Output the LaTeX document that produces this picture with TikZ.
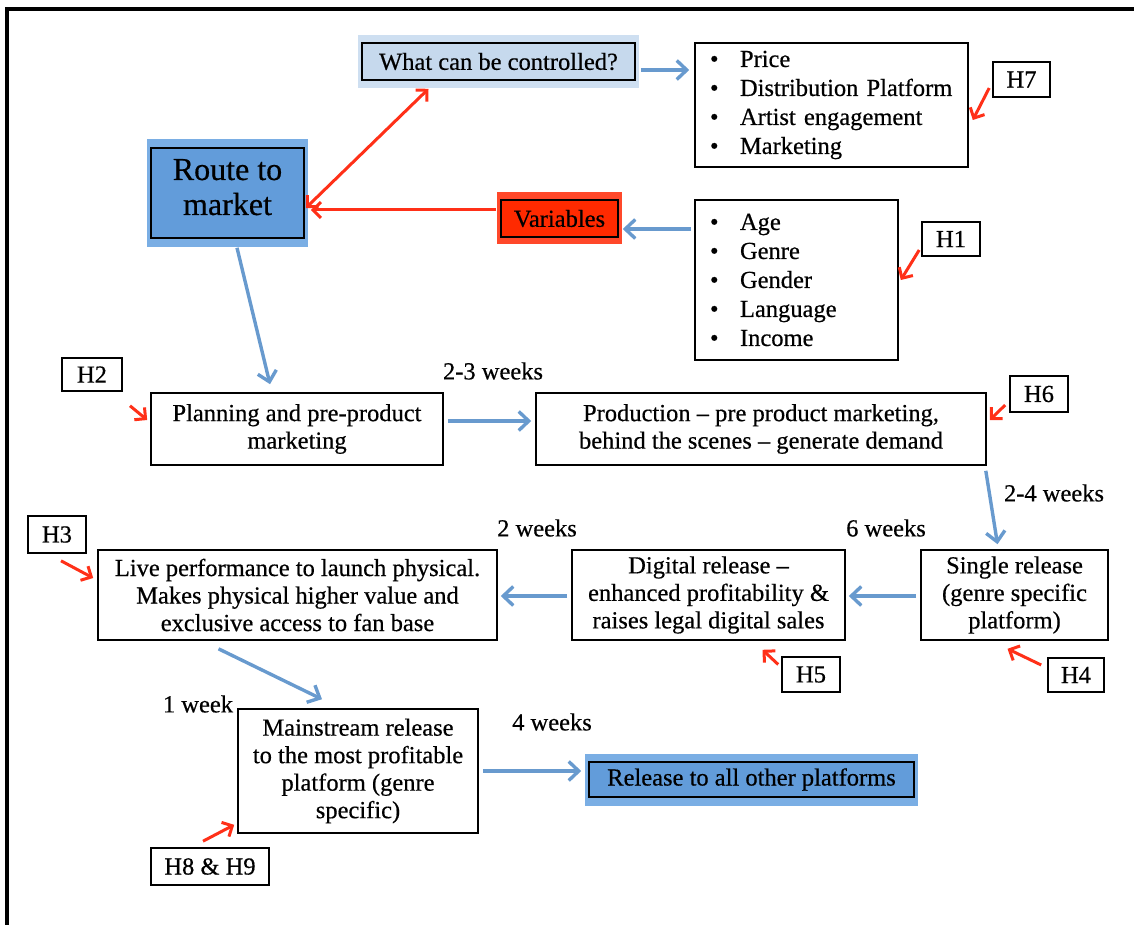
\documentclass[tikz,border=0pt]{standalone}
\usepackage{fontspec}
\setmainfont{Liberation Serif}[FakeBold=0.5]
\usetikzlibrary{arrows.meta,calc,backgrounds}

\definecolor{flowblue}{RGB}{104,154,206}
\definecolor{routeblue}{RGB}{98,156,218}
\definecolor{routeband}{RGB}{122,174,228}
\definecolor{paleblue}{RGB}{198,217,237}
\definecolor{paleband}{RGB}{206,223,241}
\definecolor{varred}{RGB}{255,42,0}
\definecolor{varband}{RGB}{255,72,42}
\definecolor{hred}{RGB}{255,48,24}

\begin{document}
\begin{tikzpicture}[x=1pt,y=-1pt,
  txt/.style={font=\fontsize{24.5}{27.5}\selectfont},
  stage/.style={draw=black, line width=1.6pt, fill=white, inner sep=0pt, align=center, txt},
  tagbox/.style={stage},
  listbox/.style={draw=black, line width=1.6pt, inner xsep=15pt, inner ysep=0pt,
    align=left, font=\fontsize{24.5}{29}\selectfont},
  flow/.style={draw=flowblue, line width=3.4pt, -{Straight Barb[length=10pt,width=19pt]}},
  hint/.style={draw=hred, line width=3pt, -{Straight Barb[length=8pt,width=16pt]}},
  hintboth/.style={draw=hred, line width=3pt,
    {Straight Barb[length=8pt,width=16pt]}-{Straight Barb[length=8pt,width=16pt]}},
  dur/.style={txt, inner sep=0pt},
]
\newcommand{\itm}[1]{\makebox[30pt][l]{\textbullet}#1}

\useasboundingbox (0,0) rectangle (1134,925);

% page frame (top and left edges)
\draw[line width=3.2pt] (1134,9) -- (7,9) -- (7,925);

% top part: route to market, controllable factors, variables
\node[stage, fill=paleblue, minimum width=273pt, minimum height=37pt] (ctrl) at (498.5,61.5) {What can be controlled?};
\node[listbox, minimum width=273pt, text width=243pt, minimum height=124pt] (ctrlList) at (831.5,105)
  {\itm{Price}\\\itm{Distribution Platform}\\\itm{Artist engagement}\\\itm{Marketing}};
\node[tagbox, minimum width=57pt, minimum height=35pt] (h7) at (1021.5,79.5) {H7};

\node[stage, fill=routeblue, minimum width=153pt, minimum height=90pt,
  font=\fontsize{32}{35}\selectfont] (route) at (227.5,193) {Route to\\market\rule[-12pt]{0pt}{1pt}};
\node[stage, fill=varred, minimum width=117pt, minimum height=37pt] (vars) at (559.5,218.5) {Variables};
\node[listbox, minimum width=203pt, text width=173pt, minimum height=160pt] (varList) at (796.5,280)
  {\itm{Age}\\\itm{Genre}\\\itm{Gender}\\\itm{Language}\\\itm{Income}};
\node[tagbox, minimum width=58pt, minimum height=34pt] (h1) at (951,239) {H1};

% release stages
\node[tagbox, minimum width=60pt, minimum height=33pt] (h2) at (92,374.5) {H2};
\node[stage, minimum width=292pt, minimum height=72pt] (plan) at (297,429) {Planning and pre-product\\marketing};
\node[stage, minimum width=450pt, minimum height=72pt] (prod) at (761,429)
  {Production -- pre product marketing,\\behind the scenes -- generate demand};
\node[tagbox, minimum width=58pt, minimum height=36pt] (h6) at (1039,394) {H6};

\node[stage, minimum width=187pt, minimum height=90pt] (single) at (1014.5,595)
  {Single release\\(genre specific\\platform)};
\node[stage, minimum width=273pt, minimum height=90pt] (digital) at (708.5,595)
  {Digital release --\\enhanced profitability \&\\raises legal digital sales};
\node[stage, minimum width=399pt, minimum height=90pt] (live) at (297.5,595)
  {Live performance to launch physical.\\Makes physical higher value and\\exclusive access to fan base};
\node[tagbox, minimum width=58pt, minimum height=37pt] (h3) at (57,534.5) {H3};
\node[tagbox, minimum width=56pt, minimum height=34pt] (h4) at (1076,675) {H4};
\node[tagbox, minimum width=58pt, minimum height=35pt] (h5) at (811,674.5) {H5};

\node[stage, minimum width=240pt, minimum height=124pt] (main) at (358,771)
  {Mainstream release\\to the most profitable\\platform (genre\\specific)};
\node[tagbox, minimum width=118pt, minimum height=37pt] (h89) at (210,866.5) {H8 \& H9};
\node[stage, fill=routeblue, minimum width=325pt, minimum height=35pt] (release) at (751.5,779.5)
  {Release to all other platforms};

% durations
\node[dur] (d23) at (493,371) {2-3 weeks};
\node[dur] (d24) at (1054,493) {2-4 weeks};
\node[dur] (d6) at (886,528) {6 weeks};
\node[dur] (d2) at (537,528) {2 weeks};
\node[dur] (d1) at (198,704) {1 week};
\node[dur] (d4) at (552,722) {4 weeks};

% coloured halos behind the highlighted boxes
\begin{scope}[on background layer]
  \fill[paleband] ($(ctrl.south west)+(-3,7)$) rectangle ($(ctrl.north east)+(3,-7)$);
  \fill[routeband] ($(route.south west)+(-3,8)$) rectangle ($(route.north east)+(3,-8)$);
  \fill[varband] ($(vars.south west)+(-3,6)$) rectangle ($(vars.north east)+(3,-7)$);
  \fill[routeband] ($(release.south west)+(-3,8)$) rectangle ($(release.north east)+(3,-7)$);
\end{scope}

% blue flow arrows
\draw[flow] ($(ctrl.east)+(5,8.5)$) -- ($(ctrlList.west)+(-5,-35)$);
\draw[flow] ($(varList.west)+(-3,-51)$) -- ($(vars.east)+(4,10.5)$);
\draw[flow] ($(route.south)+(9.5,9)$) -- ($(plan.north)+(-27,-8)$);
\draw[flow] ($(plan.east)+(4,-8)$) -- ($(prod.west)+(-4,-8)$);
\draw[flow] ($(prod.south east)+(-1,5)$) -- ($(single.north)+(-17,-5)$);
\draw[flow] ($(single.west)+(-4,1)$) -- ($(digital.east)+(3,1)$);
\draw[flow] ($(digital.west)+(-4,1)$) -- ($(live.east)+(3,1)$);
\draw[flow] ($(live.south)+(-79,8)$) -- ($(main.north)+(-36,-9)$);
\draw[flow] ($(main.east)+(4,0)$) -- ($(release.west)+(-7,-8.5)$);

% red arrows
\draw[hint] ($(vars.west)+(-4,-8.5)$) -- ($(route.east)+(6,17)$);
\draw[hintboth] ($(route.east)+(1,15)$) -- ($(ctrl.south)+(-70,8)$);
\draw[hint] ($(h7.west)+(-3,8.5)$) -- ($(ctrlList.east)+(4,15)$);
\draw[hint] ($(h1.west)+(-2,11)$) -- ($(varList.east)+(2,0)$);
\draw[hint] ($(h2.south)+(38,14)$) -- ($(plan.west)+(-3,-9)$);
\draw[hint] ($(h6.west)+(-4,11)$) -- ($(prod.east)+(3,-9)$);
\draw[hint] ($(h4.west)+(-6,-10)$) -- ($(single.south)+(-7,8)$);
\draw[hint] ($(h5.west)+(-3,-10)$) -- ($(digital.south)+(54,9)$);
\draw[hint] ($(h3.south)+(4,7)$) -- ($(live.west)+(-4,-17)$);
\draw[hint] ($(h89.north)+(-7,-6)$) -- ($(main.south west)+(-3,-9)$);
\end{tikzpicture}
\end{document}
